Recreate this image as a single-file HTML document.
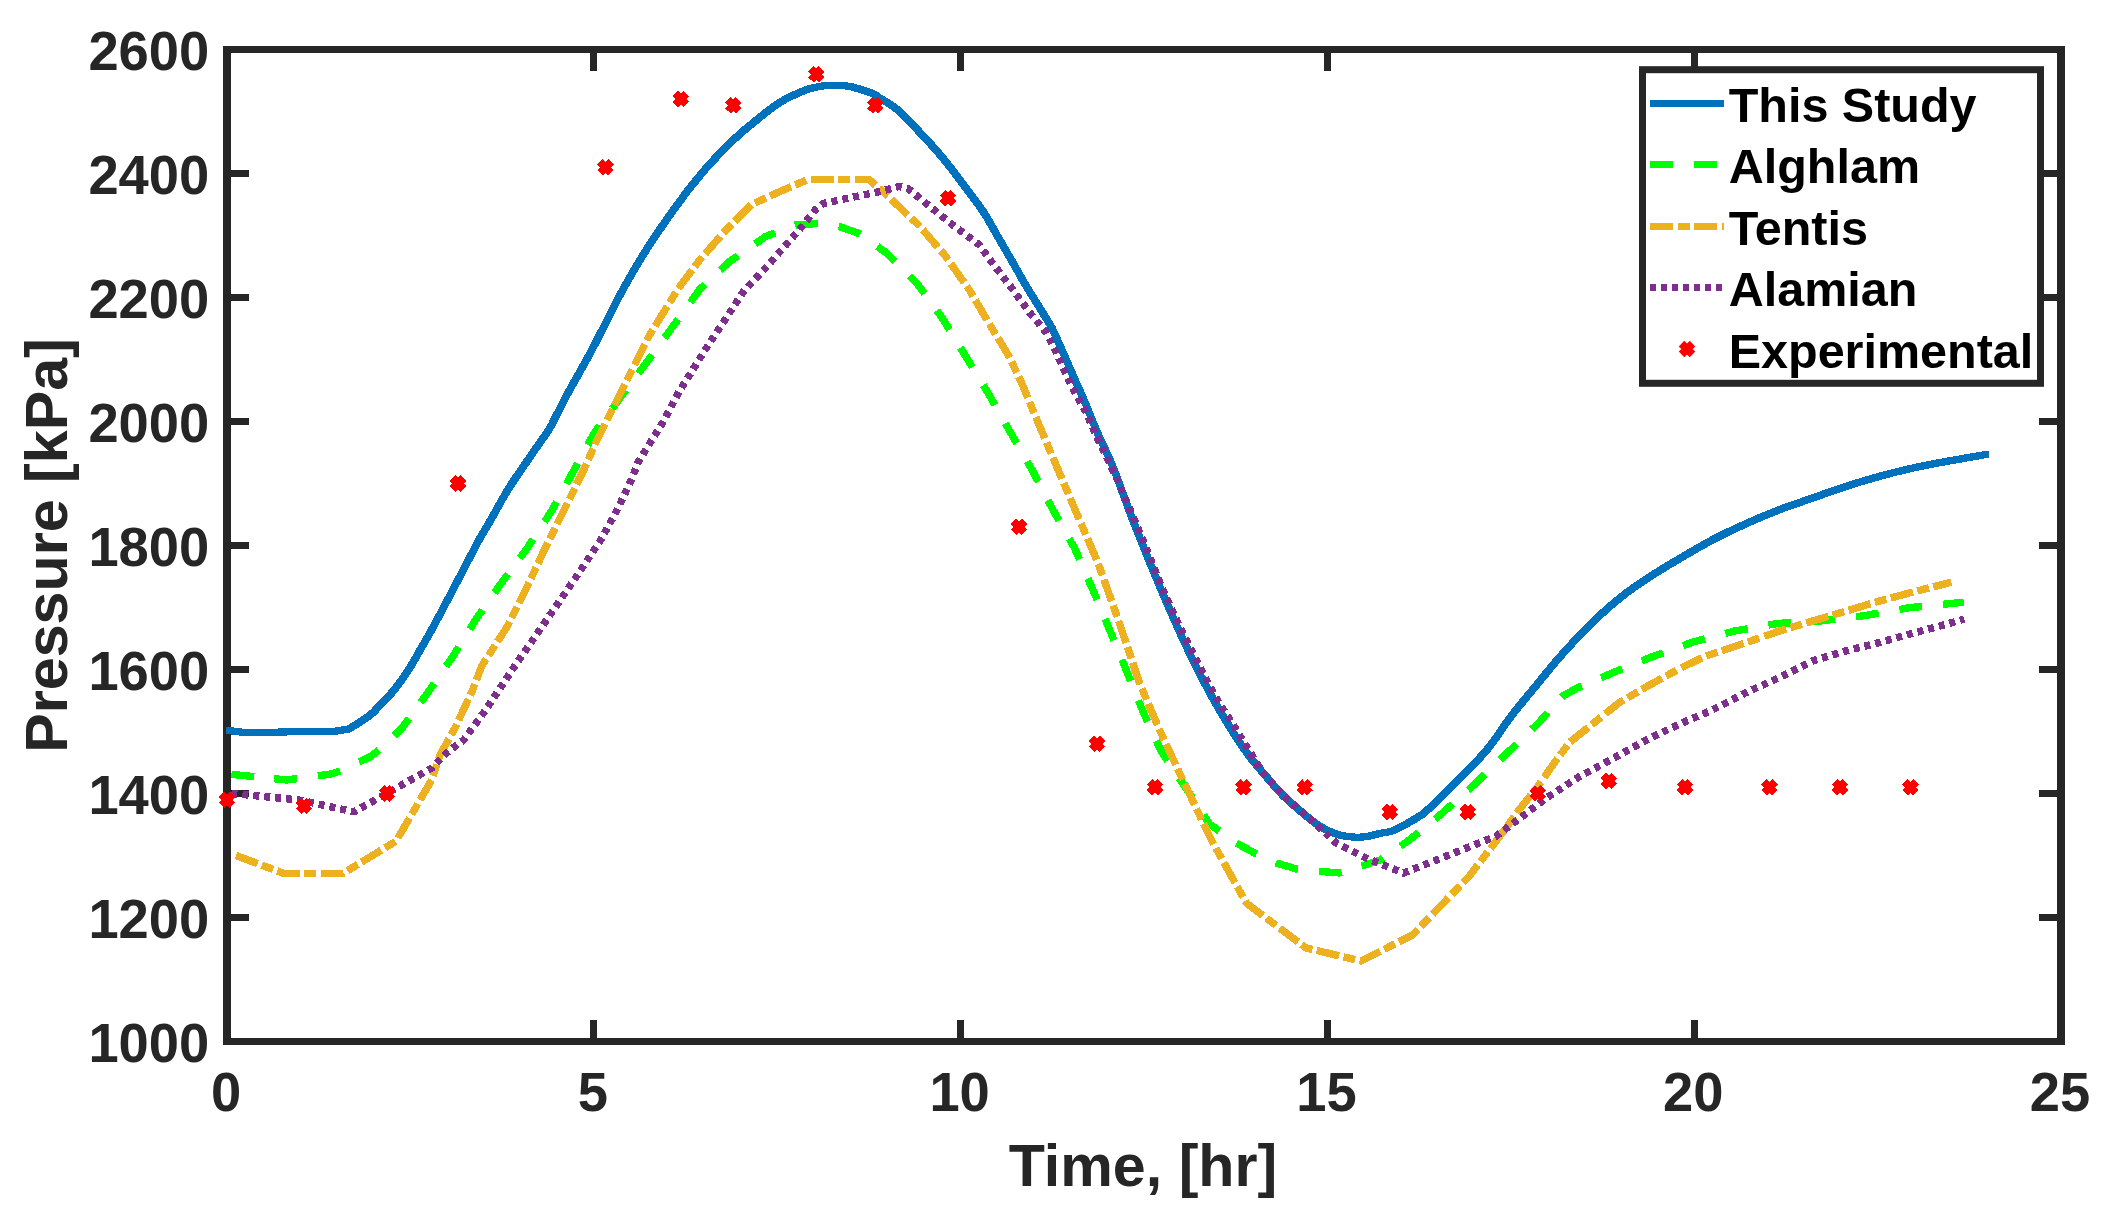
<!DOCTYPE html>
<html><head><meta charset="utf-8"><title>Pressure vs Time</title>
<style>html,body{margin:0;padding:0;background:#fff;}svg{display:block;}text{font-family:"Liberation Sans",sans-serif;font-weight:bold;}</style></head><body>
<svg width="2106" height="1218" viewBox="0 0 2106 1218">
<rect x="0" y="0" width="2106" height="1218" fill="#fff"/>
<g fill="#262626">
<rect x="223" y="46" width="8" height="999"/>
<rect x="2057" y="46" width="8" height="999"/>
<rect x="223" y="46" width="1842" height="7"/>
<rect x="223" y="1038" width="1842" height="7"/>
<rect x="590" y="1020" width="7" height="21"/>
<rect x="590" y="50" width="7" height="21"/>
<rect x="957" y="1020" width="7" height="21"/>
<rect x="957" y="50" width="7" height="21"/>
<rect x="1324" y="1020" width="7" height="21"/>
<rect x="1324" y="50" width="7" height="21"/>
<rect x="1691" y="1020" width="7" height="21"/>
<rect x="1691" y="50" width="7" height="21"/>
<rect x="227" y="914.0" width="22" height="7"/>
<rect x="2039" y="914.0" width="22" height="7"/>
<rect x="227" y="790.0" width="22" height="7"/>
<rect x="2039" y="790.0" width="22" height="7"/>
<rect x="227" y="666.0" width="22" height="7"/>
<rect x="2039" y="666.0" width="22" height="7"/>
<rect x="227" y="542.0" width="22" height="7"/>
<rect x="2039" y="542.0" width="22" height="7"/>
<rect x="227" y="418.0" width="22" height="7"/>
<rect x="2039" y="418.0" width="22" height="7"/>
<rect x="227" y="294.0" width="22" height="7"/>
<rect x="2039" y="294.0" width="22" height="7"/>
<rect x="227" y="170.0" width="22" height="7"/>
<rect x="2039" y="170.0" width="22" height="7"/>
</g>
<g fill="#262626" font-size="54.3px">
<text transform="translate(226.0,1111) scale(1,1.03)" text-anchor="middle">0</text>
<text transform="translate(592.8,1111) scale(1,1.03)" text-anchor="middle">5</text>
<text transform="translate(959.6,1111) scale(1,1.03)" text-anchor="middle">10</text>
<text transform="translate(1326.4,1111) scale(1,1.03)" text-anchor="middle">15</text>
<text transform="translate(1693.2,1111) scale(1,1.03)" text-anchor="middle">20</text>
<text transform="translate(2060.0,1111) scale(1,1.03)" text-anchor="middle">25</text>
<text transform="translate(209.2,1061.9) scale(1,1.03)" text-anchor="end">1000</text>
<text transform="translate(209.2,937.9) scale(1,1.03)" text-anchor="end">1200</text>
<text transform="translate(209.2,813.9) scale(1,1.03)" text-anchor="end">1400</text>
<text transform="translate(209.2,689.9) scale(1,1.03)" text-anchor="end">1600</text>
<text transform="translate(209.2,565.9) scale(1,1.03)" text-anchor="end">1800</text>
<text transform="translate(209.2,441.9) scale(1,1.03)" text-anchor="end">2000</text>
<text transform="translate(209.2,317.9) scale(1,1.03)" text-anchor="end">2200</text>
<text transform="translate(209.2,193.9) scale(1,1.03)" text-anchor="end">2400</text>
<text transform="translate(209.2,69.9) scale(1,1.03)" text-anchor="end">2600</text>
</g>
<g fill="#262626" font-size="59.2px">
<text x="1143" y="1186" text-anchor="middle">Time, [hr]</text>
<text transform="translate(67,545.5) rotate(-90)" text-anchor="middle">Pressure [kPa]</text>
</g>
<g fill="none" stroke-width="7.4" stroke-linejoin="round" shape-rendering="crispEdges">
<defs><path id="bl" d="M227.0 730.4 L244.6 732.5 L335.1 731.3 L349.2 728.9 C355.9 724.5 364.4 719.5 369.4 715.7 C374.4 711.9 375.2 710.2 379.3 705.9 C383.4 701.6 389.1 696.2 394.0 690.1 C398.9 684.0 404.7 675.7 408.8 669.4 C412.9 663.1 414.9 659.1 418.7 652.5 C422.5 645.9 426.6 638.9 431.5 630.0 C436.4 621.1 442.7 609.2 448.0 599.1 C453.3 589.0 458.3 579.4 463.5 569.5 C468.7 559.6 474.5 548.2 479.0 540.0 C483.5 531.8 485.8 528.5 490.7 520.0 C495.6 511.4 502.2 498.8 508.5 488.7 C514.8 478.6 521.8 469.0 528.5 459.1 C535.2 449.2 544.6 436.3 548.9 429.6 C553.2 422.9 551.3 425.1 554.5 419.0 C557.7 412.9 561.7 404.6 568.0 393.0 C574.3 381.4 584.0 364.8 592.2 349.3 C600.4 333.8 610.7 312.6 617.3 300.0 C623.9 287.4 626.9 282.2 632.0 273.5 C637.1 264.8 641.5 257.3 647.8 247.5 C654.1 237.7 664.4 222.8 670.0 214.8 C675.6 206.8 677.9 203.9 681.2 199.5 C684.5 195.1 685.0 194.0 689.7 188.2 C694.4 182.4 702.8 171.8 709.4 164.5 C716.0 157.2 724.0 149.4 729.1 144.3 C734.2 139.2 735.7 137.6 740.0 133.8 C744.3 130.0 749.9 125.5 754.8 121.5 C759.7 117.5 764.7 113.2 769.6 109.6 C774.5 106.0 779.2 102.7 784.3 99.8 C789.4 96.9 795.8 94.2 800.0 92.4 C804.2 90.6 805.5 89.9 809.4 88.8 C813.3 87.7 819.1 86.5 823.2 85.9 C827.3 85.4 830.1 85.5 834.0 85.5 C837.9 85.5 842.7 85.5 846.8 86.0 C850.9 86.5 854.3 87.5 858.7 88.8 C863.1 90.1 869.9 92.4 873.4 94.0 C876.9 95.6 876.4 96.0 880.0 98.3 C883.6 100.6 889.9 103.7 894.8 107.6 C899.7 111.5 904.7 116.9 909.6 121.8 C914.5 126.7 919.4 131.9 924.3 137.2 C929.2 142.5 934.2 147.8 939.1 153.6 C944.0 159.4 949.0 165.6 953.9 172.0 C958.8 178.4 963.8 185.1 968.7 191.8 C973.6 198.5 978.6 204.4 983.5 212.0 C988.4 219.6 993.3 228.8 998.2 237.3 C1003.1 245.8 1008.3 254.7 1013.0 262.9 C1017.7 271.1 1021.8 278.7 1026.5 286.6 C1031.2 294.5 1037.0 303.3 1041.2 310.2 C1045.5 317.1 1048.4 322.1 1052.0 328.0 C1055.3 335.4 1058.4 342.0 1062.0 350.1 C1065.6 358.2 1069.7 367.8 1073.6 376.7 C1077.5 385.6 1081.4 393.9 1085.4 403.3 C1089.4 412.7 1092.9 422.3 1097.5 432.9 C1102.1 443.4 1106.9 452.1 1112.8 466.6 C1118.7 481.1 1126.0 502.6 1132.7 519.8 C1139.4 537.0 1146.1 553.5 1152.7 569.6 C1159.3 585.7 1165.9 601.2 1172.6 616.2 C1179.2 631.2 1185.9 645.8 1192.6 659.4 C1199.3 673.0 1205.9 686.0 1212.6 698.0 C1219.2 710.0 1226.3 721.8 1232.5 731.5 C1238.7 741.2 1244.0 749.0 1249.6 756.5 C1255.2 764.0 1260.7 770.0 1266.2 776.5 C1271.8 783.0 1276.8 789.3 1282.9 795.4 C1289.0 801.5 1296.7 808.0 1302.8 813.1 C1308.9 818.2 1313.9 822.5 1319.4 826.0 C1324.9 829.5 1330.5 832.2 1336.0 834.0 C1341.5 835.8 1347.7 836.6 1352.7 837.0 C1357.7 837.4 1361.5 837.2 1366.0 836.6 C1370.5 836.0 1375.6 834.4 1380.0 833.4 C1384.4 832.4 1387.8 832.5 1392.3 830.9 C1396.8 829.2 1402.1 826.2 1407.1 823.5 C1412.1 820.8 1417.2 817.5 1422.3 814.5 C1427.1 810.2 1431.4 806.7 1436.7 801.6 C1442.0 796.5 1448.2 789.7 1453.9 783.9 C1459.6 778.1 1465.8 772.4 1471.1 766.9 C1476.4 761.4 1481.4 756.4 1485.9 751.0 C1490.4 745.6 1494.5 739.9 1498.2 734.8 C1501.9 729.7 1504.4 725.3 1508.1 720.3 C1511.8 715.3 1515.5 710.7 1520.4 704.6 C1525.3 698.5 1531.8 690.8 1537.6 683.8 C1543.3 676.8 1549.2 669.3 1554.9 662.6 C1560.7 655.9 1566.3 649.6 1572.1 643.4 C1577.8 637.2 1583.7 631.2 1589.4 625.5 C1595.2 619.8 1600.4 614.7 1606.6 609.3 C1612.8 603.9 1619.7 598.0 1626.3 593.0 C1632.9 588.0 1639.8 583.4 1646.0 579.3 C1652.2 575.2 1657.6 571.8 1663.3 568.3 C1669.0 564.8 1671.8 563.2 1680.0 558.4 C1688.2 553.6 1701.7 545.5 1712.7 539.7 C1723.7 533.9 1734.9 528.7 1746.0 523.7 C1757.1 518.7 1768.1 514.1 1779.2 509.8 C1790.3 505.5 1801.3 502.0 1812.4 498.1 C1823.5 494.2 1834.6 490.1 1845.7 486.5 C1856.8 482.9 1867.8 479.6 1878.9 476.5 C1890.0 473.4 1901.1 470.7 1912.2 468.2 C1923.3 465.7 1932.8 463.9 1945.4 461.6 C1958.0 459.3 1973.5 456.7 1987.6 454.2"/><clipPath id="bc"><rect x="226.2" y="40" width="1762.5" height="1000"/></clipPath></defs>
<g stroke="#0072BD" stroke-width="5.3" stroke-linecap="round" clip-path="url(#bc)">
<use href="#bl" x="-0.9" y="-0.9"/>
<use href="#bl" x="-0.9" y="0.0"/>
<use href="#bl" x="-0.9" y="0.9"/>
<use href="#bl" x="0.0" y="-0.9"/>
<use href="#bl" x="0.0" y="0.0"/>
<use href="#bl" x="0.0" y="0.9"/>
<use href="#bl" x="0.9" y="-0.9"/>
<use href="#bl" x="0.9" y="0.0"/>
<use href="#bl" x="0.9" y="0.9"/>
</g>
<polyline stroke="#00FF00" stroke-dasharray="23 20 23 21 23 21 23 21 23 20 23 21 23 21 23 21 23 20 23 21 23 21 23 21 23 21 23 21 23 21 23 21 23 21 23 21 23 21 23 21 23 21 23 21 23 21 23 21 23 21 23 21 23 21 23 21 23 21 23 21 23 21 23 21 23 21 23 21 23 21 23 21 23 21 23 21 23 21 23 21 23 21 23 21 23 21 23 21 23 21 23 21 23 21 23 21 23 21 23 21 23 21 23 21 23 21 23 21 23 21 23 21 23 21 23 21 23 21 23 21 23 21 23 21 23 21 23 21 23 21 23 21 23 21 23 21 23 21 23 21 23 21 23 21 23 21 23 21 23 21 23 21 23 21 23 21 23 21 23 21 23 21 23 21" points="231.4,774.3 286.8,780.0 330.5,774.1 339.8,771.0 370.6,756.5 386.0,744.5 402.2,727.8 428.0,692.3 452.6,656.8 476.3,618.8 501.5,582.8 527.4,547.9 551.7,510.8 572.7,472.5 593.6,434.0 619.1,399.2 649.0,359.3 675.6,322.7 699.7,289.4 729.6,261.5 765.5,236.6 795.4,225.0 817.4,223.5 839.3,226.6 859.3,233.6 887.2,253.5 917.1,283.4 943.2,319.3 966.5,357.6 989.7,395.8 1011.4,434.1 1033.0,471.5 1052.9,509.8 1074.5,548.0 1092.8,589.6 1109.5,629.5 1126.0,669.4 1142.7,711.0 1161.0,750.9 1184.5,786.0 1209.5,824.0 1236.3,843.0 1254.6,853.0 1276.2,863.0 1296.2,868.9 1317.8,871.3 1339.4,872.9 1361.0,866.3 1381.0,859.6 1399.3,846.8 1408.3,840.8 1425.0,827.5 1441.6,813.7 1474.8,784.1 1506.8,753.3 1538.9,722.6 1555.0,704.5 1563.5,695.5 1577.0,688.1 1610.3,673.8 1650.9,657.3 1692.8,642.1 1734.3,631.1 1777.5,623.5 1819.1,621.1 1865.6,615.5 1908.8,607.8 1963.7,602.2"/>
<polyline stroke="#EDB120" stroke-dasharray="23 4.5 12 4.5 23 4.5 12 4.5 23 4.5 12 4.5 23 4.5 12 4.5 23 4.5 12 4.5 23 4.5 12 5.5 23 4.5 12 4.5 23 4.5 12 4.5 23 4.5 12 4.5 23 4.5 12 4.5 23 4.5 12 4.5 23 4.5 12 4.5 23 4.5 12 4.5 23 4.5 12 4.5 23 4.5 12 4.5 23 4.5 12 5.5 23 4.5 12 4.5 23 4.5 12 4.5 23 4.5 12 4.5 23 4.5 12 4.5 23 4.5 12 4.5 23 4.5 12 4.5 23 4.5 12 4.5 23 4.5 12 4.5 23 4.5 12 4.5 23 4.5 12 4.5 23 4.5 12 4.5 23 4.5 12 4.5 23 4.5 12 4.5 23 4.5 12 4.5 23 4.5 12 4.5 23 4.5 12 4.5 23 4.5 12 4.5 23 4.5 12 4.5 23 4.5 12 4.5 23 4.5 12 4.5 23 4.5 12 4.5 23 4.5 12 4.5 23 4.5 12 4.5 23 4.5 12 4.5 23 4.5 12 4.5 23 4.5 12 4.5 23 4.5 12 4.5 23 4.5 12 4.5 23 4.5 12 4.5 23 4.5 12 4.5 23 4.5 12 4.5 23 4.5 12 4.5 23 4.5 12 4.5 23 4.5 12 4.5 23 4.5 12 5.5 23 4.5 12 4.5 23 4.5 12 5.5 23 4.5 12 4.5 23 4.5 12 5.5 23 4.5 12 4.5 23 4.5 12 5.5 23 4.5 12 4.5 23 4.5 12 4.5 23 4.5 12 4.5 23 4.5 12 4.5 23 4.5 12 4.5 23 4.5 12 4.5 23 4.5 12 4.5 23 4.5 12 4.5 23 4.5 12 4.5 23 4.5 12 4.5 23 4.5 12 4.5 23 4.5 12 4.5 23 4.5 12 4.5 23 4.5 12 4.5 23 4.5 12 4.5 23 4.5 12 4.5 23 4.5 12 4.5 23 4.5 12 4.5 23 4.5 12 4.5 23 4.5 12 4.5 23 4.5 12 4.5 23 4.5 12 4.5 23 4.5 12 4.5 23 4.5 12 4.5 23 4.5 12 4.5" points="236.0,855.5 283.7,873.4 343.0,873.4 396.0,841.2 431.9,779.6 440.0,755.1 455.4,727.2 472.2,690.9 481.9,665.7 507.2,626.6 526.7,587.6 546.3,545.7 565.8,506.6 584.9,467.5 595.8,442.4 622.4,389.2 649.0,336.0 677.7,289.4 699.7,260.0 725.6,230.4 751.5,204.5 779.5,191.7 807.4,179.7 869.3,179.7 887.2,195.6 919.1,225.6 945.1,255.5 969.0,289.4 988.6,322.7 1008.8,355.9 1021.5,382.5 1033.8,412.4 1047.6,445.0 1058.1,469.9 1078.0,516.4 1098.0,563.0 1119.4,622.9 1139.4,682.7 1159.3,729.3 1179.3,772.5 1204.2,825.0 1213.0,843.0 1246.3,903.0 1306.1,948.0 1361.0,961.0 1412.6,935.0 1469.1,876.3 1505.7,828.5 1517.9,811.2 1537.6,786.6 1554.9,762.0 1569.7,742.3 1594.3,722.6 1618.9,702.9 1648.5,685.6 1680.0,668.4 1706.0,656.0 1746.0,642.7 1779.2,631.1 1812.4,621.1 1845.7,611.2 1878.9,601.2 1912.2,592.2 1951.4,582.2"/>
<polyline stroke="#7E2F8E" stroke-dasharray="6 5" points="231.4,793.4 299.0,800.0 353.9,811.8 386.6,793.6 431.9,767.9 445.6,753.7 463.8,739.7 483.3,713.2 514.0,667.1 544.8,622.5 575.5,577.8 600.6,540.1 617.4,509.4 631.3,480.0 638.3,461.9 662.3,423.3 678.9,392.0 705.5,349.3 743.6,291.4 769.5,263.5 799.4,229.6 815.4,209.6 823.4,203.5 855.3,196.6 877.2,192.1 899.2,186.5 908.2,188.7 925.1,202.6 951.1,223.6 979.0,244.5 989.7,259.5 1011.4,287.7 1029.7,312.7 1046.3,332.6 1056.3,352.6 1071.2,385.8 1086.2,412.4 1096.2,435.7 1116.0,476.5 1142.7,539.7 1162.7,589.6 1181.0,629.5 1200.9,669.4 1215.9,697.7 1237.0,731.0 1262.9,773.2 1286.2,798.1 1312.8,821.4 1336.0,843.0 1366.0,858.0 1403.5,873.0 1445.8,856.3 1495.7,836.4 1515.7,821.4 1545.6,798.5 1578.8,777.0 1612.1,759.0 1645.3,740.5 1678.6,724.5 1712.3,710.0 1746.0,692.6 1779.2,677.6 1812.4,661.0 1845.7,651.0 1878.9,642.7 1912.2,633.4 1945.4,624.5 1964.2,619.0"/>
</g>
<g fill="none" stroke="#FF0000" stroke-width="7.8" shape-rendering="crispEdges">
<path d="M221.6 794.2L232.4 805.2M221.6 805.2L232.4 794.2"/>
<path d="M298.6 800.4L309.4 811.4M298.6 811.4L309.4 800.4"/>
<path d="M381.6 788.0L392.4 799.0M381.6 799.0L392.4 788.0"/>
<path d="M452.6 478.1L463.4 488.9M452.6 488.9L463.4 478.1"/>
<path d="M600.0 161.9L611.0 172.8M600.0 172.8L611.0 161.9"/>
<path d="M675.4 93.6L686.4 104.5M675.4 104.5L686.4 93.6"/>
<path d="M727.8 99.8L738.7 110.8M727.8 110.8L738.7 99.8"/>
<path d="M810.8 68.8L821.7 79.8M810.8 79.8L821.7 68.8"/>
<path d="M869.8 99.8L880.7 110.8M869.8 110.8L880.7 99.8"/>
<path d="M942.6 192.9L953.6 203.8M942.6 203.8L953.6 192.9"/>
<path d="M1013.5 521.4L1024.5 532.4M1013.5 532.4L1024.5 521.4"/>
<path d="M1091.5 738.4L1102.5 749.4M1091.5 749.4L1102.5 738.4"/>
<path d="M1149.5 781.8L1160.5 792.8M1149.5 792.8L1160.5 781.8"/>
<path d="M1238.2 781.8L1249.2 792.8M1238.2 792.8L1249.2 781.8"/>
<path d="M1299.3 781.8L1310.2 792.8M1299.3 792.8L1310.2 781.8"/>
<path d="M1384.2 806.6L1395.2 817.6M1384.2 817.6L1395.2 806.6"/>
<path d="M1462.2 806.6L1473.2 817.6M1462.2 817.6L1473.2 806.6"/>
<path d="M1532.3 788.0L1543.2 799.0M1532.3 799.0L1543.2 788.0"/>
<path d="M1603.2 775.6L1614.2 786.6M1603.2 786.6L1614.2 775.6"/>
<path d="M1679.5 781.8L1690.5 792.8M1679.5 792.8L1690.5 781.8"/>
<path d="M1764.1 781.8L1775.0 792.8M1764.1 792.8L1775.0 781.8"/>
<path d="M1834.5 781.8L1845.5 792.8M1834.5 792.8L1845.5 781.8"/>
<path d="M1905.0 781.8L1916.0 792.8M1905.0 792.8L1916.0 781.8"/>
</g>
<rect x="1642.5" y="69.7" width="398" height="313.6" fill="#fff" stroke="#262626" stroke-width="7"/>
<g fill="none" stroke-width="7" shape-rendering="crispEdges">
<path stroke="#0072BD" d="M1650 103.4H1724"/>
<path stroke="#00FF00" stroke-dasharray="23 21" d="M1650 164.9H1724"/>
<path stroke="#EDB120" stroke-dasharray="23 4.5 12 4.5" d="M1650 226.3H1724"/>
<path stroke="#7E2F8E" stroke-dasharray="6 5" d="M1650 287.6H1724"/>
</g>
<g fill="none" stroke="#FF0000" stroke-width="7.8"><path d="M1681.5 343.6L1692.5 354.4M1681.5 354.4L1692.5 343.6"/></g>
<g fill="#000" font-size="48.5px">
<text x="1728.7" y="122.1">This Study</text>
<text x="1728.7" y="183.4">Alghlam</text>
<text x="1728.7" y="245.0">Tentis</text>
<text x="1728.7" y="306.3">Alamian</text>
<text x="1728.7" y="368.0">Experimental</text>
</g>
</svg></body></html>
